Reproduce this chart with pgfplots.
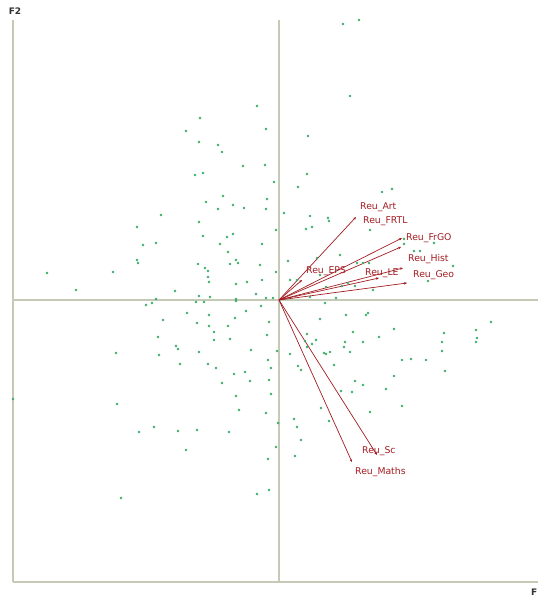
\documentclass[border=0pt]{standalone}
\usepackage{pgfplots}
\pgfplotsset{compat=1.18}
\usepackage{fontspec}
\setmainfont{DejaVu Sans}
\usetikzlibrary{arrows.meta}

\definecolor{axisgrey}{RGB}{196,202,182}
\definecolor{obsgreen}{RGB}{60,172,105}
\definecolor{varred}{RGB}{162,28,34}

% observations (F1, F2), screen units
\pgfplotstableread{
x y
-22 194
-79 182
-93 169
-13 171
-80 158
-61 155
-57 148
-36 134
-14 135
-84 125
-76 127
-56 104
-73 98
-46 95
-61 91
-35 92
-13 91
-12 101
-118 85
-80 78
-142 73
-76 64
-52 63
-46 66
-136 55
-123 57
-59 56
-17 56
-51 48
-142 40
-141 37
-81 36
-74 32
-71 29
-49 36
-43 40
-41 37
-19 35
-71 23
-70 18
-43 16
-32 18
-17 20
-232 27
-203 10
-166 28
-104 9
-123 1
-80 4
-69 3
-43 1
-23 6
-13 2
64 276
80 280
71 204
29 164
28 126
-5 118
19 113
103 108
113 111
5 87
31 84
49 82
50 79
27 71
33 73
-3 70
91 70
125 61
125 56
135 49
141 49
155 57
9 39
38 42
61 45
78 37
84 37
90 37
174 34
-3 28
41 25
11 20
18 20
149 19
47 13
63 14
69 17
76 14
94 10
31 3
57 2
-6 2
-133 -5
-127 -3
-83 -2
-75 -2
-43 -1
-18 -6
-92 -13
-70 -15
-116 -20
-82 -23
-70 -26
-44 -18
-33 -11
-51 -26
-10 -22
-65 -32
-121 -37
-65 -40
-49 -39
-12 -35
-163 -53
-120 -55
-103 -46
-101 -49
-80 -52
-28 -50
-99 -64
-71 -64
-63 -68
-11 -60
-45 -74
-34 -72
-57 -83
-29 -81
-10 -80
-266 -99
-162 -104
-43 -96
-40 -110
-13 -113
-140 -132
-125 -127
-101 -131
-82 -130
-50 -132
-93 -150
-11 -159
-22 -194
-10 -190
-158 -198
46 -3
41 -19
67 -15
87 -15
89 -13
28 -34
37 -40
26 -41
33 -44
28 -47
74 -32
66 -42
65 -47
84 -42
71 -52
100 -37
115 -29
165 -33
163 -42
163 -51
197 -30
198 -38
197 -42
212 -22
-2 -51
11 -54
45 -53
47 -54
51 -52
123 -60
132 -59
147 -60
19 -66
22 -70
55 -65
166 -71
115 -76
76 -81
84 -85
-8 -68
-8 -94
62 -91
73 -92
107 -89
42 -108
123 -106
91 -112
50 -121
15 -119
18 -127
-1 -123
22 -140
-3 -147
16 -156
}\obs

\begin{document}
\begin{tikzpicture}
\begin{axis}[
  scale only axis,
  width=525pt, height=562pt,
  xmin=-266, xmax=259, ymin=-282, ymax=280,
  axis x line*=bottom, axis y line*=left,
  axis line style={axisgrey, line width=1.3pt, -},
  xtick=\empty, ytick=\empty,
  clip=false,
]
  \coordinate (ll) at (axis cs:-279,-298);
  \coordinate (ur) at (axis cs:259,300);
  \draw[axisgrey, line width=1.1pt] (axis cs:0,-282) -- (axis cs:0,280);
  \draw[axisgrey, line width=1.1pt] (axis cs:-266,0) -- (axis cs:259,0);

  \addplot[only marks, mark=*, mark size=1.1pt, obsgreen] table {\obs};

  \pgfplotsset{vec/.style={varred, line width=0.7pt, -{Stealth[length=3pt,width=2.6pt]}}}
  \addplot[vec] coordinates {(0,0) (77,83)};
  \addplot[vec] coordinates {(0,0) (123,62)};
  \addplot[vec] coordinates {(0,0) (122,53)};
  \addplot[vec] coordinates {(0,0) (124,32)};
  \addplot[vec] coordinates {(0,0) (100,22)};
  \addplot[vec] coordinates {(0,0) (128,17)};
  \addplot[vec] coordinates {(0,0) (23,20)};
  \addplot[vec] coordinates {(0,0) (98,-155)};
  \addplot[vec] coordinates {(0,0) (73,-162)};

  \begin{scope}[every node/.style={anchor=west, inner sep=0pt, text=varred, font=\fontsize{9.3}{10}\selectfont}]
    \node at (axis cs:81,93) {Reu\_Art};
    \node at (axis cs:84,79) {Reu\_FRTL};
    \node at (axis cs:127,62) {Reu\_FrGO};
    \node at (axis cs:129,41) {Reu\_Hist};
    \node at (axis cs:134,25) {Reu\_Geo};
    \node at (axis cs:27,29) {Reu\_EPS};
    \node at (axis cs:86,27) {Reu\_LE};
    \node at (axis cs:83,-151) {Reu\_Sc};
    \node at (axis cs:76,-172) {Reu\_Maths};
  \end{scope}

  \node[font=\fontsize{9}{10}\selectfont\bfseries, text=black!80, inner sep=0pt] at (axis cs:-264,289) {F2};
  \node[font=\fontsize{9}{10}\selectfont\bfseries, text=black!80, inner sep=0pt, anchor=east] at (axis cs:258.5,-292) {F};
\end{axis}
\pgfresetboundingbox
\path (ll) rectangle (ur);
\end{tikzpicture}
\end{document}
